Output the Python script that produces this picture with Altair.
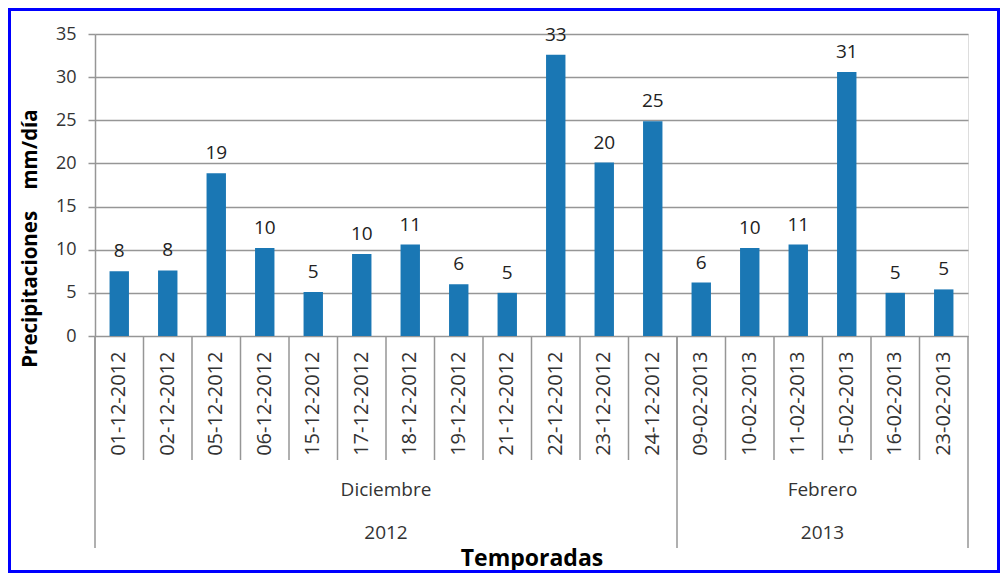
import altair as alt
import pandas as pd

dates = ["01-12-2012", "02-12-2012", "05-12-2012", "06-12-2012", "15-12-2012",
         "17-12-2012", "18-12-2012", "19-12-2012", "21-12-2012", "22-12-2012",
         "23-12-2012", "24-12-2012", "09-02-2013", "10-02-2013", "11-02-2013",
         "15-02-2013", "16-02-2013", "23-02-2013"]
months = ["Diciembre"] * 12 + ["Febrero"] * 6
years = ["2012"] * 12 + ["2013"] * 6
values = [7.5, 7.6, 18.85, 10.2, 5.1, 9.5, 10.6, 6.0, 5.0, 32.6, 20.1, 24.9,
          6.2, 10.2, 10.6, 30.6, 5.0, 5.4]
labels = ["8", "8", "19", "10", "5", "10", "11", "6", "5", "33", "20", "25",
          "6", "10", "11", "31", "5", "5"]
y_ticks = [0, 5, 10, 15, 20, 25, 30, 35]

W, H = 873, 302
PAD = {"left": 87, "top": 26, "right": 32, "bottom": 237}
FONT = "Open Sans"
GRID = "#969696"
BAR = "#1a77b4"

df = pd.DataFrame({"date": dates, "month": months, "year": years,
                   "value": values, "label": labels})

# group (month / year) boundaries and centres derived from the category lists
def groups(keys):
    out = []
    start = 0
    for i in range(1, len(keys) + 1):
        if i == len(keys) or keys[i] != keys[start]:
            n = i - start
            mid = start + n / 2
            idx = int(mid)
            out.append({"name": keys[start], "first": dates[start],
                        "center": dates[min(idx, len(dates) - 1)],
                        "bp": mid - idx})
            start = i
    return out

month_g = pd.DataFrame(groups(months))
year_g = pd.DataFrame(groups(years))

xscale = alt.Scale(domain=dates, paddingInner=0, paddingOuter=0)
yscale = alt.Scale(domain=[0, 35], nice=False)

base = alt.Chart(df)

bars = base.mark_bar(color=BAR, width=alt.RelativeBandSize(0.4)).encode(
    x=alt.X("date:N", scale=xscale, sort=dates,
            axis=alt.Axis(title="Temporadas", labelAngle=270, labelFont=FONT,
                          labelFontSize=20, labelColor="#333333", labelPadding=15,
                          ticks=False, domain=False, titleFont=FONT,
                          titleFontSize=23, titleFontWeight="bold",
                          titleColor="#000000", titleY=222,
                          titleBaseline="middle", labelOverlap=False)),
    y=alt.Y("value:Q", scale=yscale,
            axis=alt.Axis(title="Precipitaciones\u00a0\u00a0\u00a0\u00a0mm/día",
                          values=y_ticks, labelFont=FONT, labelFontSize=18,
                          labelColor="#333333", labelPadding=12, tickSize=7,
                          tickColor=GRID, tickWidth=1.5, domainColor=GRID,
                          domainWidth=1.5, gridColor=GRID, gridWidth=1.5,
                          titleFont=FONT, titleFontSize=20.5,
                          titleFontWeight="bold", titleColor="#000000",
                          titleX=-65, titleY=204, titleAngle=270,
                          titleAlign="center", titleBaseline="middle")),
)

text = base.mark_text(font=FONT, fontSize=19, color="#222222",
                      baseline="alphabetic", dy=-14).encode(
    x=alt.X("date:N", scale=xscale, sort=dates),
    y=alt.Y("value:Q", scale=yscale),
    text="label:N",
)

seps = base.mark_rule(color=GRID, strokeWidth=1.5).encode(
    x=alt.X("date:N", scale=xscale, sort=dates, bandPosition=0),
    y=alt.value(H),
    y2=alt.value(H + 124),
)

long_left = alt.Chart(month_g).mark_rule(color=GRID, strokeWidth=1.5).encode(
    x=alt.X("first:N", scale=xscale, sort=dates, bandPosition=0),
    y=alt.value(H),
    y2=alt.value(H + 212),
)

long_right = alt.Chart(pd.DataFrame({"date": [dates[-1]]})).mark_rule(
    color=GRID, strokeWidth=1.5).encode(
    x=alt.X("date:N", scale=xscale, sort=dates, bandPosition=1),
    y=alt.value(H),
    y2=alt.value(H + 212),
)

month_text = alt.Chart(month_g).mark_text(
    font=FONT, fontSize=19, color="#333333", baseline="middle").encode(
    x=alt.X("center:N", scale=xscale, sort=dates, bandPosition=0),
    y=alt.value(H + 154),
    text="name:N",
)

year_text = alt.Chart(year_g).mark_text(
    font=FONT, fontSize=19, color="#333333", baseline="middle").encode(
    x=alt.X("center:N", scale=xscale, sort=dates, bandPosition=0),
    y=alt.value(H + 197),
    text="name:N",
)

border = alt.Chart(pd.DataFrame({"k": [0]})).mark_rect(
    fill=None, stroke="#0000ff", strokeWidth=3).encode(
    x=alt.value(-PAD["left"] + 1.5),
    x2=alt.value(W + PAD["right"] - 1.5),
    y=alt.value(-PAD["top"] + 1.5),
    y2=alt.value(H + PAD["bottom"] - 1.5),
)

chart = alt.layer(bars, text, seps, long_left, long_right, month_text,
                  year_text, border).properties(
    width=W, height=H, padding=PAD,
    autosize=alt.AutoSizeParams(type="none"),
).configure_view(stroke=None).configure(background="white")

chart.save("out.html", embed_options={"renderer": "svg", "actions": False})
